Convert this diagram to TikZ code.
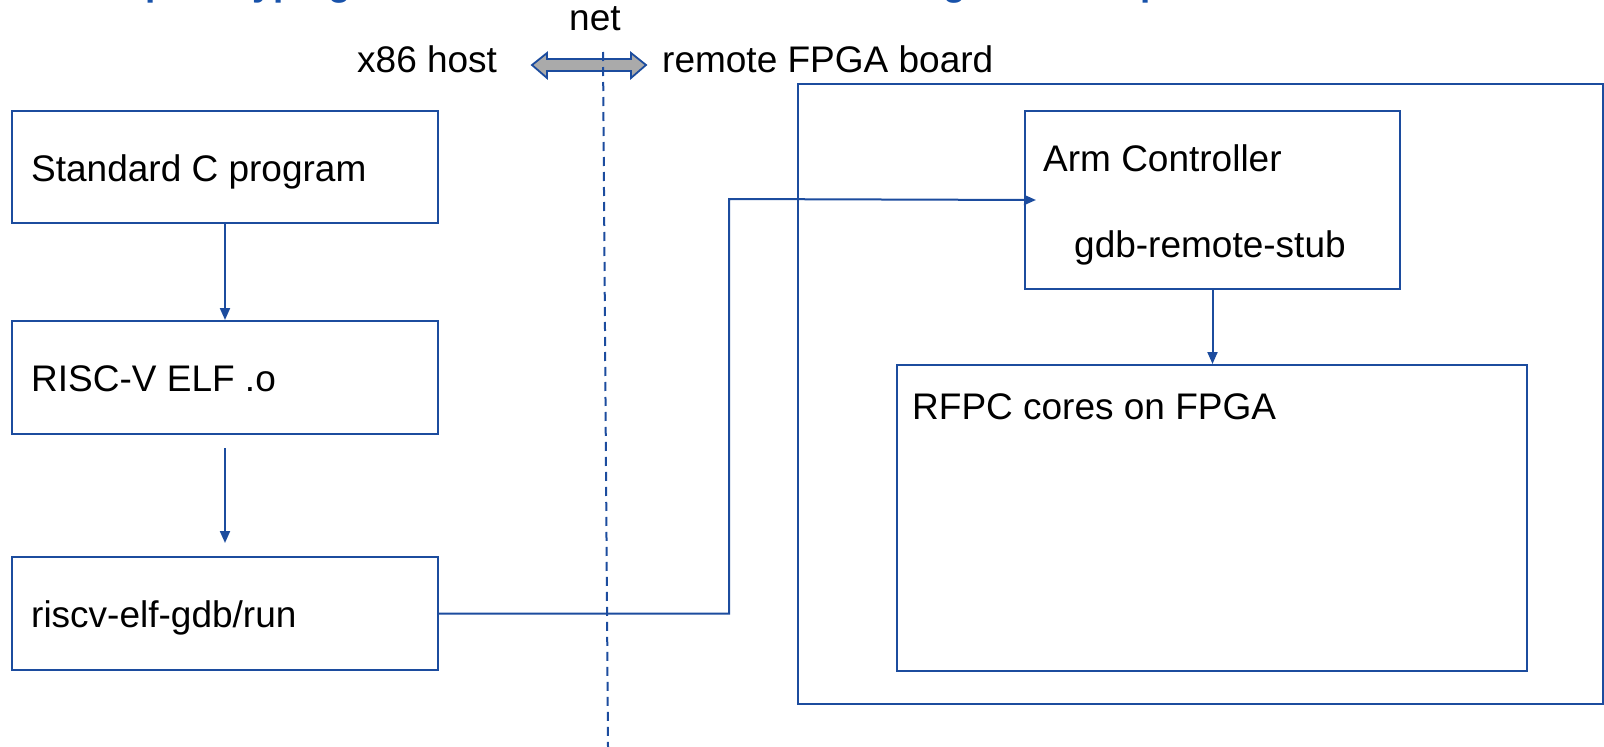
\documentclass[tikz,border=0pt]{standalone}
\usepackage{fontspec}
\setmainfont{Liberation Sans}
\usetikzlibrary{arrows.meta,calc}

\definecolor{lineblue}{RGB}{28,76,158}
\definecolor{titleblue}{RGB}{24,82,170}
\definecolor{arrowgray}{RGB}{170,170,170}

\tikzset{
  box/.style={draw=lineblue, line width=2pt, rectangle, inner sep=0pt, anchor=north west},
  label/.style={font=\fontsize{37}{44}\selectfont, inner sep=0pt, anchor=base west, text=black},
  conn/.style={draw=lineblue, line width=2pt, -{Triangle[length=12pt,width=10pt]}},
  wire/.style={draw=lineblue, line width=2pt},
}

\begin{document}
\begin{tikzpicture}[x=1pt,y=-1pt]
  \useasboundingbox (0,0) rectangle (1604,747);

  % title line, mostly above the page edge
  \node[label, text=titleblue, font=\fontsize{37}{44}\selectfont\bfseries] (title) at (10,-5)
    {RISC-V prototyping on RFPC cores with remote debug host setup};

  % host side
  \node[box, minimum width=426pt, minimum height=112pt] (src) at (11,110) {};
  \node[box, minimum width=426pt, minimum height=113pt] (elf) at (11,320) {};
  \node[box, minimum width=426pt, minimum height=113pt] (gdb) at (11,556) {};

  \node[label] (srct) at (31,181) {Standard C program};
  \node[label] (elft) at (31,391) {RISC-V ELF .o};
  \node[label] (gdbt) at (31,627) {riscv-elf-gdb/run};

  % board side
  \node[box, minimum width=805pt, minimum height=620pt] (board) at (797,83) {};
  \node[box, minimum width=375pt, minimum height=178pt] (arm) at (1024,110) {};
  \node[box, minimum width=630pt, minimum height=306pt] (rfpc) at (896,364) {};

  \node[label] (armt) at (1043,171) {Arm Controller};
  \node[label] (stubt) at (1074,257) {gdb-remote-stub};
  \node[label] (rfpct) at (912,419) {RFPC cores on FPGA};

  % headings and network link
  \node[label] (hostt) at (357,72) {x86 host};
  \node[label] (boardt) at (662,72) {remote FPGA board};
  \node[label] (nett) at (569,30) {net};

  \draw[draw=lineblue, line width=1.8pt, fill=arrowgray, line join=miter]
    (532,65) -- (547,53) -- (547,59) -- (631,59) -- (631,53) -- (646,65)
    -- (631,78) -- (631,71) -- (547,71) -- (547,78) -- cycle;

  \coordinate (splittop) at (603,52);
  \coordinate (splitbot) at (608,747);
  \draw[wire, dash pattern=on 9pt off 6pt] (splittop) -- (splitbot);

  % connectors
  \draw[conn] (src.south) -- (elf.north);
  \draw[conn] ($(elf.south)+(0,13)$) -- ($(gdb.north)+(0,-13)$);
  \coordinate (turn) at (729,199);
  \draw[conn] (gdb.east) -| (turn) -- ($(arm.west)+(12,0)$);
  \draw[conn] (arm.south) -- (arm.south |- rfpc.north);
\end{tikzpicture}
\end{document}
